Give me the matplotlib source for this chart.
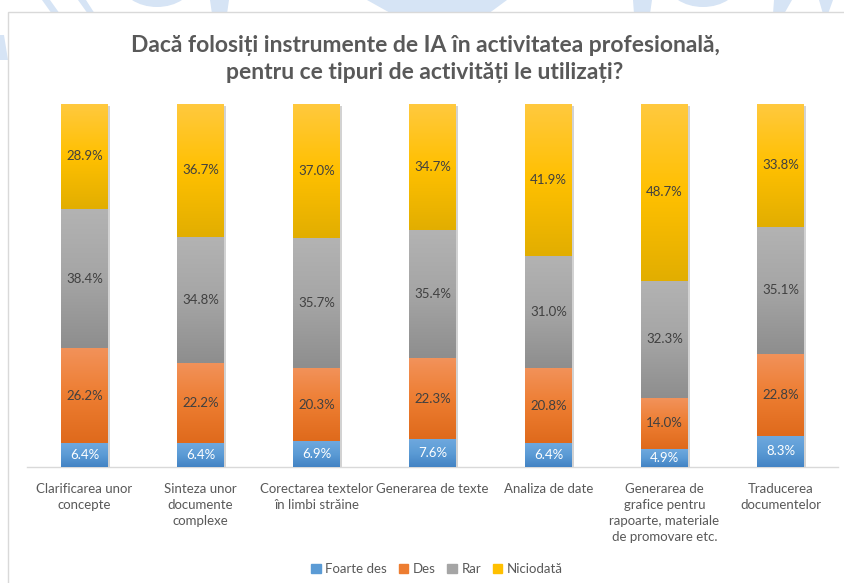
import numpy as np
import matplotlib
matplotlib.use("Agg")
import matplotlib.pyplot as plt
from matplotlib.patches import Rectangle, Polygon, Ellipse
import matplotlib.patheffects as pe
from matplotlib.colors import to_rgb

plt.rcParams['font.family'] = ['Lato', 'DejaVu Sans']

categories = [
    "Clarificarea unor\nconcepte",
    "Sinteza unor\ndocumente\ncomplexe",
    "Corectarea textelor\nîn limbi străine",
    "Generarea de texte",
    "Analiza de date",
    "Generarea de\ngrafice pentru\nrapoarte, materiale\nde promovare etc.",
    "Traducerea\ndocumentelor",
]
series_names = ["Foarte des", "Des", "Rar", "Niciodată"]
foarte_des = [6.4, 6.4, 6.9, 7.6, 6.4, 4.9, 8.3]
des = [26.2, 22.2, 20.3, 22.3, 20.8, 14.0, 22.8]
rar = [38.4, 34.8, 35.7, 35.4, 31.0, 32.3, 35.1]
niciodata = [28.9, 36.7, 37.0, 34.7, 41.9, 48.7, 33.8]

base_colors = ["#5B9BD5", "#ED7D31", "#A5A5A5", "#FFC000"]
top_colors = ["#6EA8DE", "#F2925A", "#B3B3B3", "#FFC93E"]
bot_colors = ["#4383C4", "#DF6A1C", "#8E8E8E", "#E2AE00"]
label_colors = ["white", "#404040", "#404040", "#404040"]

W, H = 845, 583
fig = plt.figure(figsize=(W / 100, H / 100), dpi=100)
fig.patch.set_facecolor("white")

# faint watermark shapes outside chart box (decorative background)
wm = "#D6E4F5"
bg = fig.add_axes([0, 0, 1, 1], zorder=-10)
bg.set_xlim(0, W); bg.set_ylim(H, 0); bg.axis("off")
for poly in [
    [(42, 0), (50, 0), (60, 14), (52, 14)],
    [(78, 0), (86, 0), (95, 14), (88, 14)],
    [(210, 0), (229, 0), (227, 14), (212, 14)],
    [(367, 0), (507, 0), (488, 14), (392, 14)],
    [(633, 0), (652, 0), (650, 14), (634, 14)],
    [(774, 0), (792, 0), (784, 14), (773, 14)],
    [(819, 0), (833, 0), (828, 14), (823, 14)],
    [(0, 35), (4, 35), (8, 60), (0, 60)],
]:
    bg.add_patch(Polygon(poly, closed=True, color=wm, lw=0))
bg.add_patch(Ellipse((157, -18), 72, 50, color=wm, lw=0))
bg.add_patch(Ellipse((703, -18), 72, 50, color=wm, lw=0))
# chart box
bg.add_patch(Rectangle((8, 12), W, H, facecolor="white", edgecolor="#D9D9D9", lw=1.0))

# plot axes
left, right = 26.5, 838.5
top, bottom = 104, 466.5
ax = fig.add_axes([left / W, 1 - bottom / H, (right - left) / W, (bottom - top) / H])
ax.set_facecolor("none")

data = np.array([foarte_des, des, rar, niciodata], dtype=float)
totals = data.sum(axis=0)
frac = data / totals * 100

x = np.arange(len(categories))
bw = 0.405
bottoms = np.zeros(len(categories))
for i, name in enumerate(series_names):
    bars = ax.bar(x, frac[i], bw, bottom=bottoms, color=base_colors[i], label=name,
                  zorder=2, linewidth=0,
                  path_effects=[pe.SimplePatchShadow(offset=(1.2, -1.2), shadow_rgbFace="#7F7F7F", alpha=0.35),
                                pe.Normal()])
    c_top = np.array(to_rgb(top_colors[i]))
    c_mid = np.array(to_rgb(base_colors[i]))
    c_bot = np.array(to_rgb(bot_colors[i]))
    for j, b in enumerate(bars):
        x0 = b.get_x(); x1 = x0 + b.get_width()
        y0 = b.get_y(); y1 = y0 + b.get_height()
        t = np.linspace(0, 1, 64)[:, None]  # 0 = bottom, 1 = top
        col = np.where(t < 0.5,
                       c_bot + (c_mid - c_bot) * (t / 0.5),
                       c_mid + (c_top - c_mid) * ((t - 0.5) / 0.5))
        img = np.repeat(col[:, None, :], 2, axis=1)
        ax.imshow(img, extent=(x0, x1, y0, y1), origin="lower", aspect="auto",
                  zorder=3, interpolation="bilinear")
        ax.text(x[j], y0 + (y1 - y0) / 2, f"{data[i, j]:.1f}%", ha="center", va="center",
                fontsize=9.5, color=label_colors[i], zorder=4)
    bottoms += frac[i]

ax.set_xlim(-0.5, len(categories) - 0.5)
ax.set_ylim(0, 100)
ax.set_xticks(x)
ax.set_xticklabels(categories, fontsize=9.5, color="#595959", linespacing=1.38)
ax.tick_params(axis="x", length=0, pad=12)
ax.set_yticks([])
for s in ["top", "right", "left"]:
    ax.spines[s].set_visible(False)
ax.spines["bottom"].set_color("#D9D9D9")
ax.spines["bottom"].set_linewidth(1.0)

fig.text(425 / W, 1 - 59 / H,
         "Dacă folosiți instrumente de IA în activitatea profesională,\npentru ce tipuri de activități le utilizați?",
         ha="center", va="center", fontsize=16.5, fontweight="bold", color="#595959", linespacing=1.3)

handles = [Rectangle((0, 0), 1, 1, color=c) for c in base_colors]
fig.legend(handles, series_names, loc="center", bbox_to_anchor=(437 / W, 1 - 569 / H), ncol=4,
           frameon=False, fontsize=9.5, handlelength=0.7, handleheight=0.7, handletextpad=0.35,
           columnspacing=0.9, labelcolor="#595959")

fig.savefig("out.png", dpi=100, facecolor="white")
